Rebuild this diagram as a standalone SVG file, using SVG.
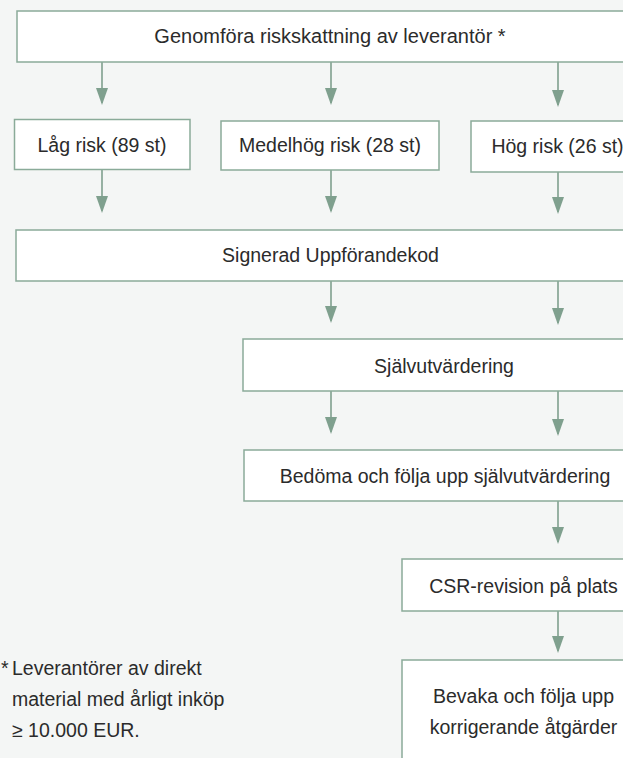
<svg xmlns="http://www.w3.org/2000/svg" width="623" height="758" viewBox="0 0 623 758">
<style>
.box{fill:#ffffff;stroke:#8aab99;stroke-width:1.5}
.lbl{font-family:"Liberation Sans",Arial,sans-serif;font-size:19.5px;fill:#2b2b2b;text-anchor:middle}
.note{font-family:"Liberation Sans",Arial,sans-serif;font-size:19.5px;fill:#2b2b2b}
.con{stroke:#7fa08e;stroke-width:1.6;fill:none;marker-end:url(#ah)}
</style>
<defs>
<marker id="ah" markerUnits="userSpaceOnUse" markerWidth="17" markerHeight="12" refX="15" refY="6" orient="auto">
<path d="M0,0 L17,6 L0,12 z" fill="#7fa08e"/>
</marker>
</defs>
<rect width="623" height="758" fill="#f4f6f5"/>
<g id="connectors">
<line class="con" x1="102" y1="62" x2="102" y2="103"/>
<line class="con" x1="331" y1="62" x2="331" y2="103"/>
<line class="con" x1="558" y1="62" x2="558" y2="105"/>
<line class="con" x1="102" y1="169" x2="102" y2="211"/>
<line class="con" x1="331" y1="170" x2="331" y2="211"/>
<line class="con" x1="558" y1="172" x2="558" y2="212"/>
<line class="con" x1="331" y1="281" x2="331" y2="321"/>
<line class="con" x1="558" y1="281" x2="558" y2="323"/>
<line class="con" x1="331" y1="391" x2="331" y2="432"/>
<line class="con" x1="558" y1="391" x2="558" y2="434"/>
<line class="con" x1="558" y1="501" x2="558" y2="542"/>
<line class="con" x1="558" y1="611" x2="558" y2="651"/>
</g>
<g id="n1"><rect class="box" x="17" y="11" width="627" height="51"/><text class="lbl" x="330" y="43" style="font-size:20px">Genomföra riskskattning av leverantör *</text></g>
<g id="n2"><rect class="box" x="14.5" y="119.5" width="175.5" height="50"/><text class="lbl" x="102" y="152">Låg risk (89 st)</text></g>
<g id="n3"><rect class="box" x="221" y="121" width="218" height="49"/><text class="lbl" x="330" y="152">Medelhög risk (28 st)</text></g>
<g id="n4"><rect class="box" x="471" y="121" width="173" height="51"/><text class="lbl" x="557.5" y="153">Hög risk (26 st)</text></g>
<g id="n5"><rect class="box" x="16" y="230" width="628" height="51"/><text class="lbl" x="330.5" y="262">Signerad Uppförandekod</text></g>
<g id="n6"><rect class="box" x="243" y="339" width="401" height="52"/><text class="lbl" x="444" y="373">Självutvärdering</text></g>
<g id="n7"><rect class="box" x="244" y="450" width="400" height="51"/><text class="lbl" x="445" y="483">Bedöma och följa upp självutvärdering</text></g>
<g id="n8"><rect class="box" x="402" y="559" width="242" height="52"/><text class="lbl" x="523.5" y="593">CSR-revision på plats</text></g>
<g id="n9"><rect class="box" x="402" y="660" width="242" height="110"/><text class="lbl" x="523.5" y="703">Bevaka och följa upp</text><text class="lbl" x="523.5" y="734">korrigerande åtgärder</text></g>
<g id="footnote">
<text class="note" x="1" y="675">*</text>
<text class="note" x="12" y="675">Leverantörer av direkt</text>
<text class="note" x="12" y="706">material med årligt inköp</text>
<text class="note" x="12" y="737">≥ 10.000 EUR.</text>
</g>
</svg>
